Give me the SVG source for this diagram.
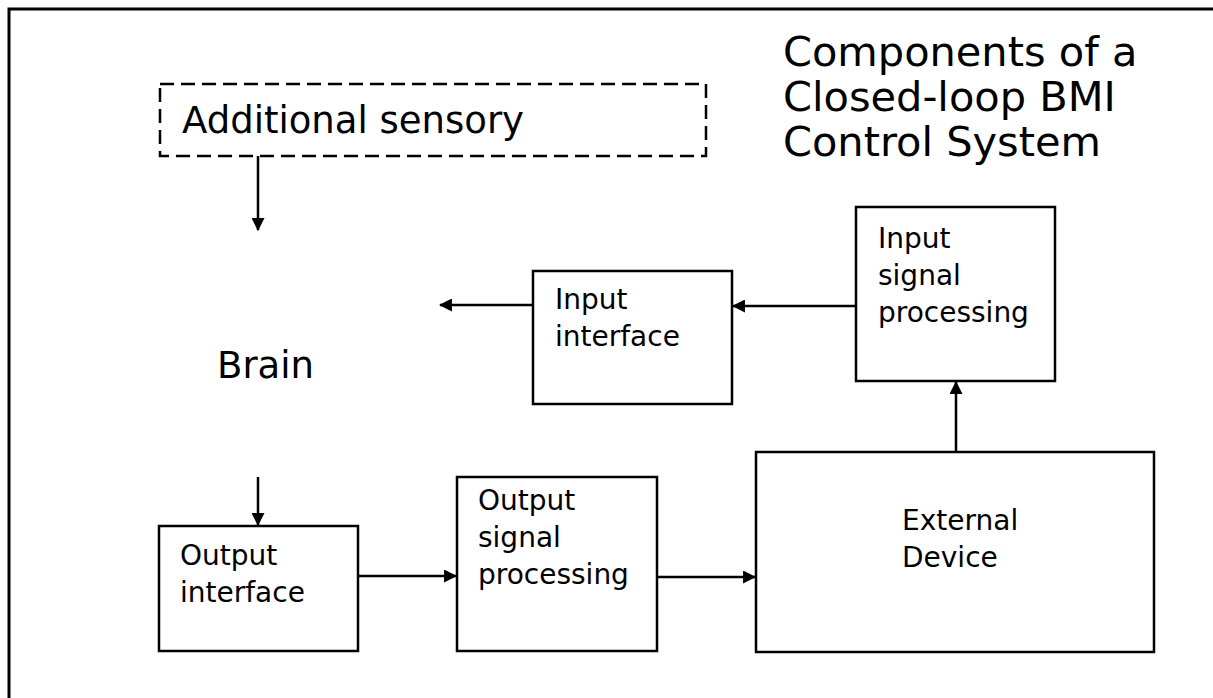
<svg xmlns="http://www.w3.org/2000/svg" width="1213" height="698" viewBox="0 0 1213 698">
<defs>
<style>
.box{fill:#fff;stroke:#000;stroke-width:2.5}
.dash{fill:none;stroke:#000;stroke-width:2.5;stroke-dasharray:14 7}
.lbl{font-family:"DejaVu Sans",Verdana,sans-serif;font-size:28px;fill:#000}
.big{font-family:"DejaVu Sans",Verdana,sans-serif;font-size:37px;fill:#000}
.ttl{font-family:"DejaVu Sans",Verdana,sans-serif;font-size:41.5px;fill:#000}
.con{fill:none;stroke:#000;stroke-width:2.5}
</style>
<marker id="ah" viewBox="0 0 12 12" refX="11" refY="6" markerWidth="13" markerHeight="13" markerUnits="userSpaceOnUse" orient="auto">
<path d="M0,0 L12,6 L0,12 Z" fill="#000"/>
</marker>
</defs>
<rect width="1213" height="698" fill="#fff"/>
<path d="M9,710 V9 H1220" fill="none" stroke="#000" stroke-width="3"/>
<g id="title">
<text class="ttl" x="783" y="66">Components of a</text>
<text class="ttl" x="783" y="111">Closed-loop BMI</text>
<text class="ttl" x="783" y="156">Control System</text>
</g>
<g id="sensory">
<rect class="dash" x="160" y="84" width="546" height="72"/>
<text class="big" x="182" y="133">Additional sensory</text>
</g>
<g id="brain">
<text class="big" x="217" y="378">Brain</text>
</g>
<g id="input-interface">
<rect class="box" x="533" y="271" width="199" height="133"/>
<text class="lbl" x="555" y="309">Input</text>
<text class="lbl" x="555" y="346">interface</text>
</g>
<g id="input-signal">
<rect class="box" x="856" y="207" width="199" height="174"/>
<text class="lbl" x="878" y="248">Input</text>
<text class="lbl" x="878" y="285">signal</text>
<text class="lbl" x="878" y="322">processing</text>
</g>
<g id="external-device">
<rect class="box" x="756" y="452" width="398" height="200"/>
<text class="lbl" x="902" y="530">External</text>
<text class="lbl" x="902" y="567">Device</text>
</g>
<g id="output-interface">
<rect class="box" x="159" y="526" width="199" height="125"/>
<text class="lbl" x="180" y="565">Output</text>
<text class="lbl" x="180" y="602">interface</text>
</g>
<g id="output-signal">
<rect class="box" x="457" y="477" width="200" height="174"/>
<text class="lbl" x="478" y="510">Output</text>
<text class="lbl" x="478" y="547">signal</text>
<text class="lbl" x="478" y="584">processing</text>
</g>
<g id="connectors">
<line class="con" x1="258" y1="156" x2="258" y2="230" marker-end="url(#ah)"/>
<line class="con" x1="533" y1="305" x2="440" y2="305" marker-end="url(#ah)"/>
<line class="con" x1="856" y1="306" x2="733" y2="306" marker-end="url(#ah)"/>
<line class="con" x1="956" y1="452" x2="956" y2="382" marker-end="url(#ah)"/>
<line class="con" x1="258" y1="477" x2="258" y2="525" marker-end="url(#ah)"/>
<line class="con" x1="358" y1="576" x2="456" y2="576" marker-end="url(#ah)"/>
<line class="con" x1="657" y1="577" x2="755" y2="577" marker-end="url(#ah)"/>
</g>
</svg>
